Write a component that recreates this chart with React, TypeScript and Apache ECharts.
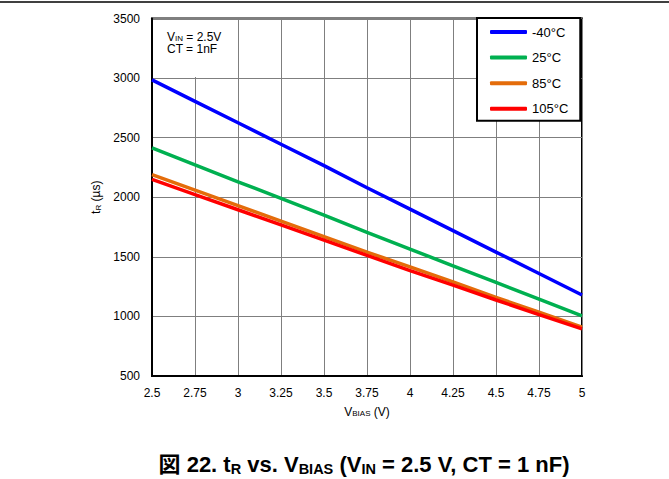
import React, { useEffect, useRef } from "react";
import * as echarts from "echarts";

const xValues = [2.5, 2.75, 3, 3.25, 3.5, 3.75, 4, 4.25, 4.5, 4.75, 5];
const seriesNames = ["-40°C", "25°C", "85°C", "105°C"];
const seriesColors = ["#0000ff", "#00b050", "#e46c0a", "#ff0000"];
const tM40 = [2985, 2805, 2625, 2445, 2265, 2080, 1900, 1720, 1540, 1360, 1180];
const t25 = [2415, 2272, 2130, 1990, 1850, 1705, 1565, 1425, 1285, 1145, 1005];
const t85 = [2190, 2060, 1930, 1800, 1670, 1540, 1415, 1290, 1160, 1035, 910];
const t105 = [2150, 2022, 1895, 1768, 1640, 1512, 1385, 1262, 1138, 1015, 895];
const allSeries = [tM40, t25, t85, t105];

const FONT = "'Liberation Sans', Arial, 'Noto Sans CJK JP', sans-serif";

export default function App() {
  const ref = useRef<HTMLDivElement>(null);
  useEffect(() => {
    if (!ref.current) return;
    const chart = echarts.init(ref.current, null, { renderer: "svg" });
    const option: any = {
      animation: false,
      backgroundColor: "#ffffff",
      textStyle: { fontFamily: FONT },
      grid: {
        left: 152,
        right: 87,
        top: 18.5,
        bottom: 103,
        show: true,
        borderColor: "#000",
        borderWidth: 2,
        containLabel: false,
      },
      xAxis: {
        type: "value",
        min: 2.5,
        max: 5,
        interval: 0.25,
        axisLine: { show: true, lineStyle: { color: "#000", width: 2 } },
        axisTick: { show: false },
        splitLine: { show: true, lineStyle: { color: "#7f7f7f", width: 1 } },
        axisLabel: { color: "#000", fontSize: 12, margin: 11, fontFamily: FONT, formatter: (v: number) => String(v) },
        name: "{m|V}{s|BIAS}{m| (V)}",
        nameLocation: "middle",
        nameGap: 29,
        nameTextStyle: {
          color: "#000",
          fontFamily: FONT,
          rich: {
            m: { fontSize: 12, color: "#000", fontFamily: FONT },
            s: { fontSize: 8, color: "#000", fontFamily: FONT, padding: [5, 0, 0, 0] },
          },
        },
      },
      yAxis: {
        type: "value",
        min: 500,
        max: 3500,
        interval: 500,
        axisLine: { show: true, lineStyle: { color: "#000", width: 2 } },
        axisTick: { show: false },
        splitLine: { show: true, lineStyle: { color: "#7f7f7f", width: 1 } },
        axisLabel: { color: "#000", fontSize: 12, margin: 12, fontFamily: FONT, formatter: (v: number) => String(v) },
        name: "{m|t}{s|R}{m| (µs)}",
        nameLocation: "middle",
        nameGap: 40,
        nameRotate: 90,
        nameTextStyle: {
          color: "#000",
          fontFamily: FONT,
          rich: {
            m: { fontSize: 12, color: "#000", fontFamily: FONT },
            s: { fontSize: 8, color: "#000", fontFamily: FONT, padding: [5, 0, 0, 0] },
          },
        },
      },
      legend: {
        show: true,
        orient: "vertical",
        left: 477,
        top: 18,
        padding: [6, 12, 4, 13],
        itemGap: 9.6,
        itemWidth: 37,
        itemHeight: 4,
        icon: "roundRect",
        backgroundColor: "#fff",
        borderColor: "#000",
        borderWidth: 2,
        borderRadius: 0,
        textStyle: { color: "#000", fontSize: 13, lineHeight: 16, fontFamily: FONT },
        data: seriesNames,
      },
      series: allSeries.map((vals, i) => ({
        name: seriesNames[i],
        type: "line",
        showSymbol: false,
        symbol: "none",
        color: seriesColors[i],
        lineStyle: { color: seriesColors[i], width: 3.5 },
        data: xValues.map((x, j) => [x, vals[j]]),
        z: 2 + i,
      })),
      graphic: [
        {
          type: "line",
          shape: { x1: 0, y1: 2, x2: 669, y2: 2 },
          style: { stroke: "#000", lineWidth: 1.5 },
        },
        {
          type: "rect",
          shape: { x: 153, y: 20, width: 78, height: 57 },
          style: { fill: "#fff" },
          z: 10,
        },
        {
          type: "text",
          x: 167,
          y: 30,
          z: 11,
          style: {
            text: "{m|V}{s|IN}{m| = 2.5V}\n{m|CT = 1nF}",
            fill: "#000",
            fontFamily: FONT,
            rich: {
              m: { fontSize: 12, fill: "#000", fontFamily: FONT, lineHeight: 12 },
              s: { fontSize: 8, fill: "#000", fontFamily: FONT, padding: [5, 0, 0, 0] },
            },
          },
        },
        {
          type: "text",
          x: 364,
          y: 464,
          style: {
            text: "{b|図 22. t}{s|R}{b| vs. V}{s|BIAS}{b| (V}{s|IN}{b| = 2.5 V, CT = 1 nF)}",
            align: "center",
            verticalAlign: "middle",
            fontFamily: FONT,
            rich: {
              b: { fontSize: 22, fontWeight: "bold", fill: "#000", fontFamily: FONT },
              s: { fontSize: 14.5, fontWeight: "bold", fill: "#000", fontFamily: FONT, padding: [9, 0, 0, 0] },
            },
          },
        },
      ],
    };
    chart.setOption(option);
    return () => chart.dispose();
  }, []);
  return (
    <div
      ref={ref}
      style={{ position: "fixed", left: 0, top: 0, width: 669, height: 479, background: "#fff" }}
    />
  );
}
